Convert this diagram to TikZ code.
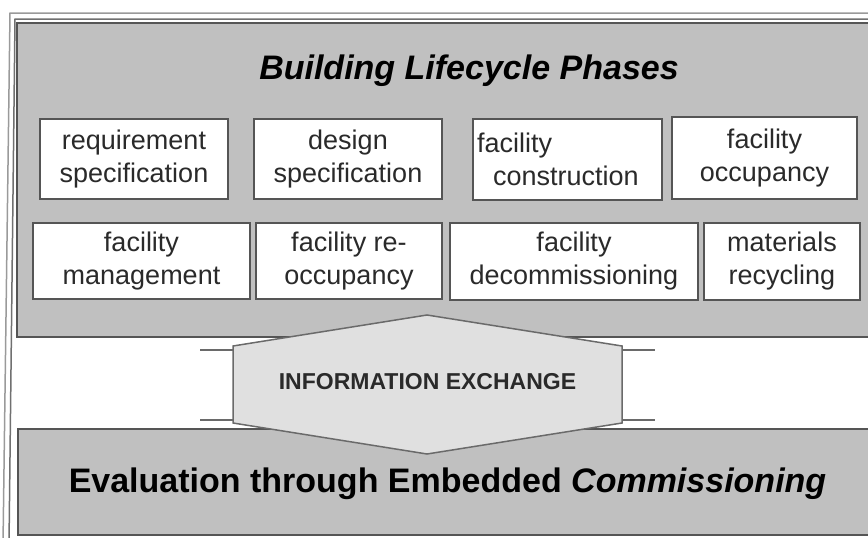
\documentclass[tikz,border=0pt]{standalone}
\usepackage{fontspec}
\setmainfont{Liberation Sans}
\definecolor{bandgray}{HTML}{C0C0C0}
\definecolor{boxline}{HTML}{555555}
\definecolor{framelight}{HTML}{9A9A9A}
\definecolor{framedark}{HTML}{707070}
\definecolor{hexfill}{HTML}{E0E0E0}
\definecolor{hexline}{HTML}{6A6A6A}
\definecolor{textgray}{HTML}{2A2A2A}
\begin{document}
\begin{tikzpicture}[x=1pt,y=-1pt,
  phase/.style={draw=boxline, line width=2pt, fill=white, inner sep=0pt,
    font=\fontsize{27}{33}\selectfont, text=textgray, align=center},
  band/.style={draw=boxline, line width=2pt, fill=bandgray},
  frameline/.style={line width=1.5pt},
  flange/.style={draw=hexline, line width=2pt},
]
\useasboundingbox (0,0) rectangle (868,538);
\clip (0,0) rectangle (868,538);
\fill[white] (0,0) rectangle (868,538);
% outer frame (double line)
\draw[frameline, framelight] (3,545) -- (10,13) -- (880,13);
\draw[frameline, framedark] (9,545) -- (15,19) -- (880,19);
% top band
\draw[band] (17,23) rectangle (885,337);
\node[font=\fontsize{34}{40}\selectfont\bfseries\itshape, text=black, anchor=base] (title) at (469,79) {Building Lifecycle Phases};
% phases row 1
\node[phase, minimum width=188pt, minimum height=80pt] (req) at (134,159) {requirement\\specification};
\node[phase, minimum width=188pt, minimum height=80pt] (des) at (348,159) {design\\specification};
\node[phase, minimum height=81pt, text width=181pt, inner xsep=4pt, align=left] (con) at (567.5,159.5) {facility\\\hspace*{16pt}construction};
\node[phase, minimum width=185pt, minimum height=82pt] (occ) at (764.5,158) {facility\\occupancy};
% phases row 2
\node[phase, minimum width=217pt, minimum height=76pt] (mgt) at (141.5,261) {facility\\management};
\node[phase, minimum width=186pt, minimum height=76pt] (reo) at (349,261) {facility re-\\occupancy};
\node[phase, minimum width=248pt, minimum height=77pt] (dec) at (574,261.5) {facility\\decommissioning};
\node[phase, minimum width=156pt, minimum height=77pt] (rec) at (782,261.5) {materials\\recycling};
% bottom band
\draw[band] (18,429) rectangle (885,535);
% information exchange double arrow
\draw[draw=hexline, fill=hexfill, line width=1.5pt, line join=miter]
  (233,346) -- (427,315) -- (622,346) -- (622,423) -- (427,454) -- (233,423) -- cycle;
\draw[flange] (200,350) -- (233,350);
\draw[flange] (622,350) -- (655,350);
\draw[flange] (200,420) -- (233,420);
\draw[flange] (622,420) -- (655,420);
\node[font=\fontsize{23}{27}\selectfont\bfseries, text=textgray, anchor=base] (info) at (427.5,389) {INFORMATION EXCHANGE};
\node[font=\fontsize{34}{40}\selectfont\bfseries, text=black, anchor=base] (eval) at (447.5,492) {Evaluation through Embedded \textit{Commissioning}};
\end{tikzpicture}
\end{document}
